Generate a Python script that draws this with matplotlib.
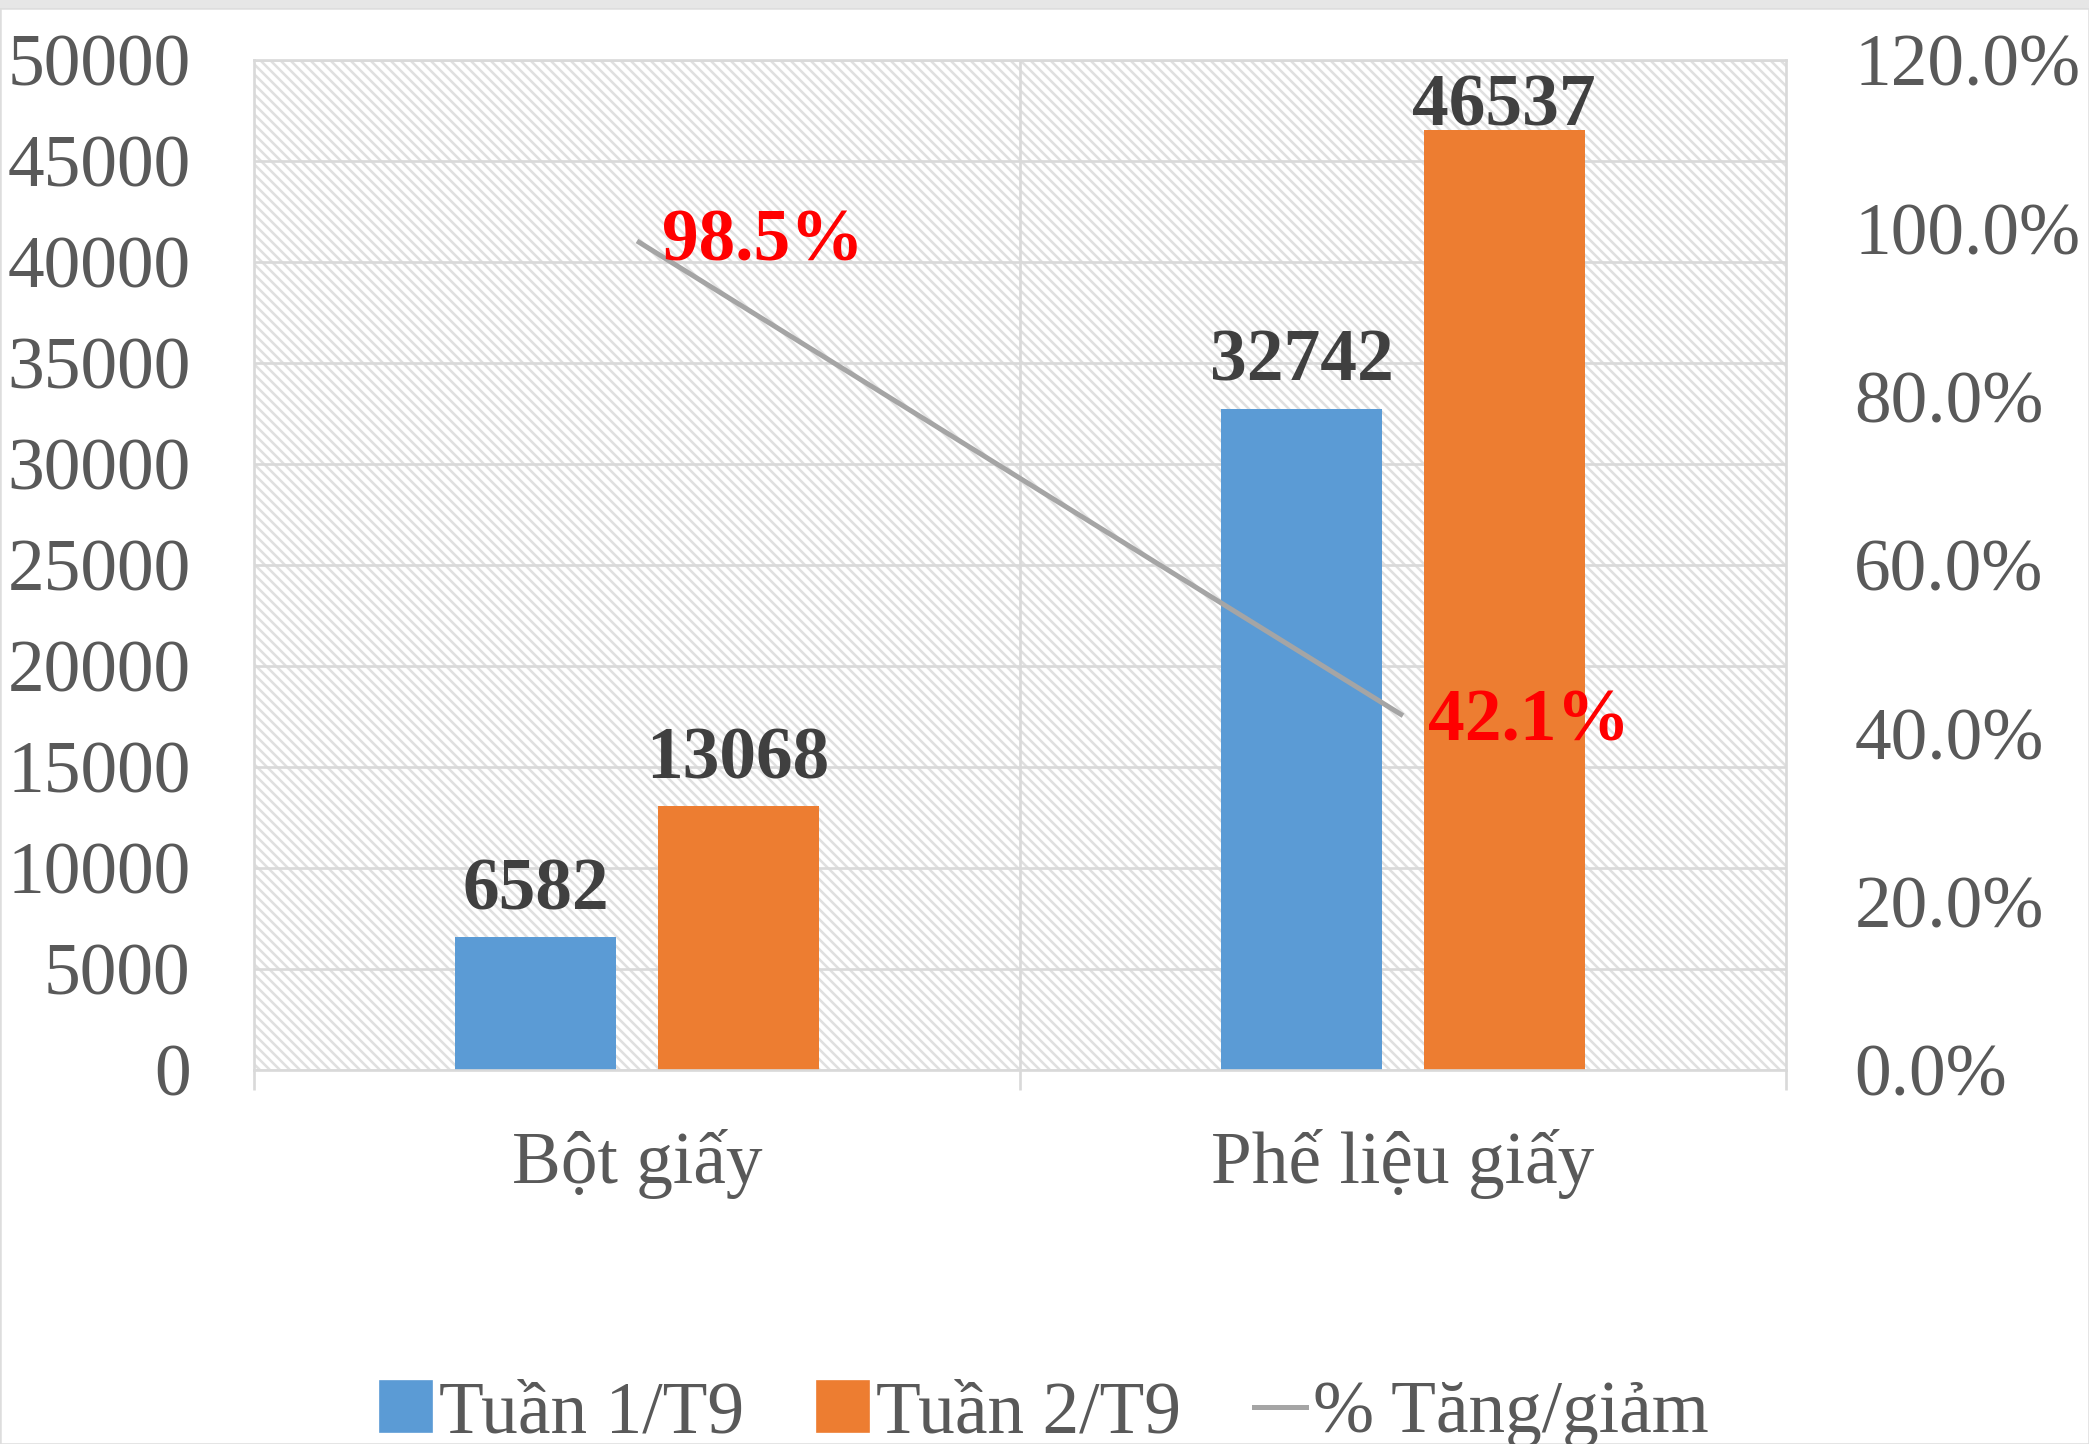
"""
Bột giấy / Phế liệu giấy - tuần 1 vs tuần 2 tháng 9
Bar chart with % change line on a secondary axis.
"""
import matplotlib
matplotlib.use('Agg')
import matplotlib.pyplot as plt
from matplotlib.patches import Rectangle, Patch
from matplotlib.lines import Line2D
from matplotlib.ticker import FuncFormatter

categories = ['Bột giấy', 'Phế liệu giấy']
week1 = [6582, 32742]
week2 = [13068, 46537]
pct_change = [0.985, 0.421]
series_labels = ['Tuần 1/T9', 'Tuần 2/T9', '% Tăng/giảm']
left_ticks = list(range(0, 50001, 5000))
right_ticks = [0.0, 0.2, 0.4, 0.6, 0.8, 1.0, 1.2]

BLUE = '#5B9BD5'
ORANGE = '#ED7D31'
LINE_GREY = '#A5A5A5'
GRID = '#D9D9D9'
TXT = '#595959'

plt.rcParams['font.family'] = ['Liberation Serif', 'DejaVu Serif']
plt.rcParams['hatch.linewidth'] = 1.5
FS = 44

W, H, DPI = 2089, 1444, 120
fig = plt.figure(figsize=(W / DPI, H / DPI), dpi=DPI)

# thin frame + top band like the screenshot
fig.patches.append(Rectangle((0, 0), 1, 1 - 8 / H, transform=fig.transFigure,
                             facecolor='white', edgecolor='#DDDDDD', lw=1.5, zorder=-5))
fig.patches.append(Rectangle((0, 1 - 8 / H), 1, 8 / H, transform=fig.transFigure,
                             facecolor='#E6E6E6', edgecolor='none', zorder=-5))

ax = fig.add_axes([254 / W, 1 - 1070 / H, (1786 - 254) / W, 1010 / H])
ax.set_facecolor('white')
# fine diagonal pattern of the plot area
ax.add_patch(Rectangle((0, 0), 1, 1, transform=ax.transAxes, facecolor='white',
                       edgecolor='#E0E0E0', hatch='\\\\\\\\', lw=0, zorder=0.1))

x = [0, 1]
bw = 0.21
off = 0.132
ax.bar([i - off for i in x], week1, width=bw, color=BLUE, zorder=2)
ax.bar([i + off for i in x], week2, width=bw, color=ORANGE, zorder=2)

ax.set_xlim(-0.5, 1.5)
ax.set_ylim(0, 50000)
ax.set_yticks(left_ticks)
ax.yaxis.set_major_formatter(FuncFormatter(lambda v, p: f'{int(v)}'))
ax.tick_params(axis='y', length=0, pad=38, labelsize=FS, labelcolor=TXT)
ax.set_xticks([-0.5, 0.5, 1.5])
ax.set_xticklabels([])
ax.tick_params(axis='x', length=12, width=1.6, color=GRID, direction='out')
ax.set_axisbelow(True)
ax.grid(axis='y', color=GRID, lw=1.6, zorder=0.5)
ax.axvline(0.5, color=GRID, lw=1.6, zorder=0.5)
for s in ax.spines.values():
    s.set_color(GRID)
    s.set_linewidth(1.6)

for i, c in enumerate(categories):
    ax.text(x[i], -0.112, c, transform=ax.get_xaxis_transform(), ha='center',
            va='baseline', fontsize=FS, color=TXT)

# value labels above bars (kept inside the plot area like Excel does)
for xs, vals in (([i - off for i in x], week1), ([i + off for i in x], week2)):
    for xi, v in zip(xs, vals):
        yb = min(v + 1385, 50000 - 800 - 2441)
        ax.text(xi, yb, f'{v}', ha='center', va='baseline', fontsize=FS,
                fontweight='bold', color='#404040', zorder=3)

ax2 = ax.twinx()
ax2.set_ylim(0, 1.2)
ax2.set_yticks(right_ticks)
ax2.yaxis.set_major_formatter(FuncFormatter(lambda v, p: f'{v * 100:.1f}%'))
ax2.tick_params(axis='y', length=0, pad=41, labelsize=FS, labelcolor=TXT)
for s in ax2.spines.values():
    s.set_visible(False)
ax2.plot(x, pct_change, color=LINE_GREY, lw=3, solid_capstyle='butt', zorder=3)
for xi, p, dy in zip(x, pct_change, (-1, -4)):
    ax2.annotate(f'{p * 100:.1f}%', (xi, p), xytext=(15, dy), textcoords='offset points',
                 ha='left', va='center', fontsize=FS, fontweight='bold', color='#FF0000')

handles = [Patch(color=BLUE), Patch(color=ORANGE), Line2D([], [], color=LINE_GREY, lw=3)]
fig.legend(handles, series_labels, loc='lower center', bbox_to_anchor=(0.5, -0.003),
           ncol=3, frameon=False, fontsize=FS, labelcolor=TXT, handlelength=0.7,
           handleheight=0.7, handletextpad=0.1, columnspacing=1.0, borderpad=0,
           borderaxespad=0)

fig.savefig('out.png', dpi=DPI)
